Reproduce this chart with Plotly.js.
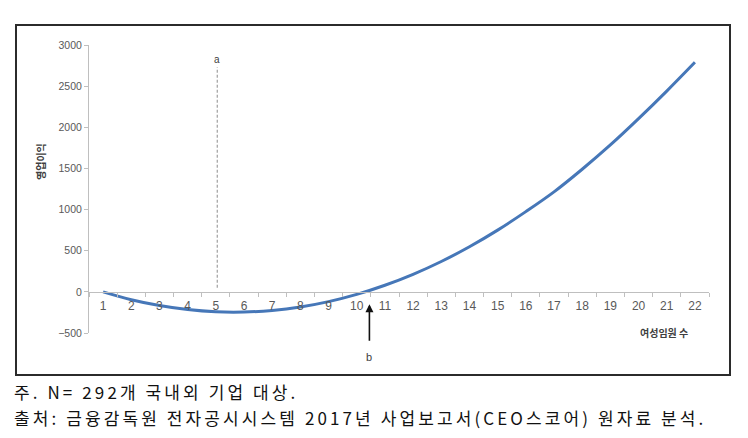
<!DOCTYPE html>
<html>
<head>
<meta charset="utf-8">
<script src="https://cdn.plot.ly/plotly-3.0.1.min.js"></script>
<style>html,body{margin:0;padding:0;background:#fff;}#chart{width:748px;height:438px;}</style>
</head>
<body>
<div id="chart"></div>
<script>
// Data
const womenExecutives = [1,2,3,4,5,6,7,8,9,10,11,12,13,14,15,16,17,18,19,20,21,22];
const operatingProfit = [0,-95,-166,-215,-242,-245,-226,-184,-119,-31,80,213,369,548,750,975,1215,1490,1785,2105,2440,2790];
const xTickLabels = womenExecutives.map(String);
const yTicks = [-500,0,500,1000,1500,2000,2500,3000];
const markA = {x: 5.05, yTop: 2730, yBottom: 50, label: 'a'};
const markB = {x: 10.45, yTip: -150, label: 'b'};
const yTitle = '영업이익';
const xTitle = '여성임원 수';
const note1 = '주. N= 292개 국내외 기업 대상.';
const note2 = '출처: 금융감독원 전자공시시스템 2017년 사업보고서(CEO스코어) 원자료 분석.';

const W = 748, H = 438;
const L = 89, R = 709, T = 45, B = 333;
const px = x => (x - L) / (R - L);
const py = y => (B - y) / (B - T);

const trace = {
  x: womenExecutives, y: operatingProfit, type: 'scatter', mode: 'lines',
  line: {color: '#4677b8', width: 3, shape: 'spline', smoothing: 1},
  hoverinfo: 'skip'
};

const boundaries = [];
for (let i = 0; i <= womenExecutives.length; i++) boundaries.push(womenExecutives[0] - 0.5 + i);

const spaced = t => '<span style="letter-spacing:3.1px">' + t + '</span>';

const layout = {
  width: W, height: H,
  margin: {l: L, r: W - R, t: T, b: H - B},
  paper_bgcolor: '#fff', plot_bgcolor: '#fff',
  showlegend: false,
  font: {family: 'Noto Sans CJK KR, Noto Sans, sans-serif', color: '#595959'},
  xaxis: {
    range: [0.5, 22.5], anchor: 'free', position: 500/3500,
    tickmode: 'array', tickvals: womenExecutives, ticktext: xTickLabels,
    ticks: '', showgrid: false, zeroline: false,
    showline: true, linecolor: '#bfbfbf', linewidth: 1,
    tickfont: {size: 12, color: '#595959', family: 'Liberation Sans, Arial, sans-serif'},
    ticklabelstandoff: 3,
    minor: {tickmode: 'array', tickvals: boundaries, ticks: 'outside', ticklen: 4, tickcolor: '#bfbfbf', showgrid: false}
  },
  yaxis: {
    range: [-500, 3000], tickmode: 'array', tickvals: yTicks,
    ticks: 'outside', ticklen: 4, tickcolor: '#bfbfbf',
    showgrid: false, zeroline: false,
    showline: true, linecolor: '#bfbfbf', linewidth: 1,
    tickfont: {size: 10.5, color: '#595959', family: 'Liberation Sans, Arial, sans-serif'}
  },
  shapes: [
    {type: 'line', xref: 'x', yref: 'y', x0: markA.x, x1: markA.x, y0: markA.yBottom, y1: markA.yTop,
     line: {color: '#8c8c8c', width: 1, dash: '3px,2px'}},
    {type: 'rect', xref: 'paper', yref: 'paper', x0: px(16), x1: px(730), y0: py(375), y1: py(25),
     line: {color: '#2b2b2b', width: 2}, fillcolor: 'rgba(0,0,0,0)', layer: 'below'}
  ],
  annotations: [
    {x: markA.x, y: markA.yTop, xref: 'x', yref: 'y', text: markA.label, showarrow: false,
     xanchor: 'center', yanchor: 'bottom', yshift: 0, font: {size: 10, color: '#404040', family: 'Liberation Sans, Arial'}},
    {x: markB.x, y: markB.yTip, xref: 'x', yref: 'y', text: '', showarrow: true,
     ax: 0, ay: 38, arrowhead: 2, arrowsize: 1, arrowwidth: 1.6, arrowcolor: '#111'},
    {x: markB.x, y: markB.yTip, xref: 'x', yref: 'y', text: markB.label, showarrow: false,
     xanchor: 'center', yanchor: 'middle', yshift: -53, font: {size: 11, color: '#404040', family: 'Liberation Sans, Arial'}},
    {x: px(40), y: py(162), xref: 'paper', yref: 'paper', text: '<b>' + yTitle + '</b>', textangle: -90,
     xanchor: 'center', yanchor: 'middle', showarrow: false, font: {size: 10, color: '#404040'}},
    {x: px(664), y: py(332), xref: 'paper', yref: 'paper', text: '<b>' + xTitle + '</b>',
     xanchor: 'center', yanchor: 'middle', showarrow: false, font: {size: 10, color: '#404040'}},
    {x: px(12), y: py(391), xref: 'paper', yref: 'paper', xanchor: 'left', yanchor: 'middle', text: spaced(note1),
     showarrow: false, font: {size: 17, color: '#111'}},
    {x: px(12), y: py(417), xref: 'paper', yref: 'paper', xanchor: 'left', yanchor: 'middle', text: spaced(note2),
     showarrow: false, font: {size: 17, color: '#111'}}
  ]
};

Plotly.newPlot('chart', [trace], layout, {staticPlot: true, displayModeBar: false});
</script>
</body>
</html>
